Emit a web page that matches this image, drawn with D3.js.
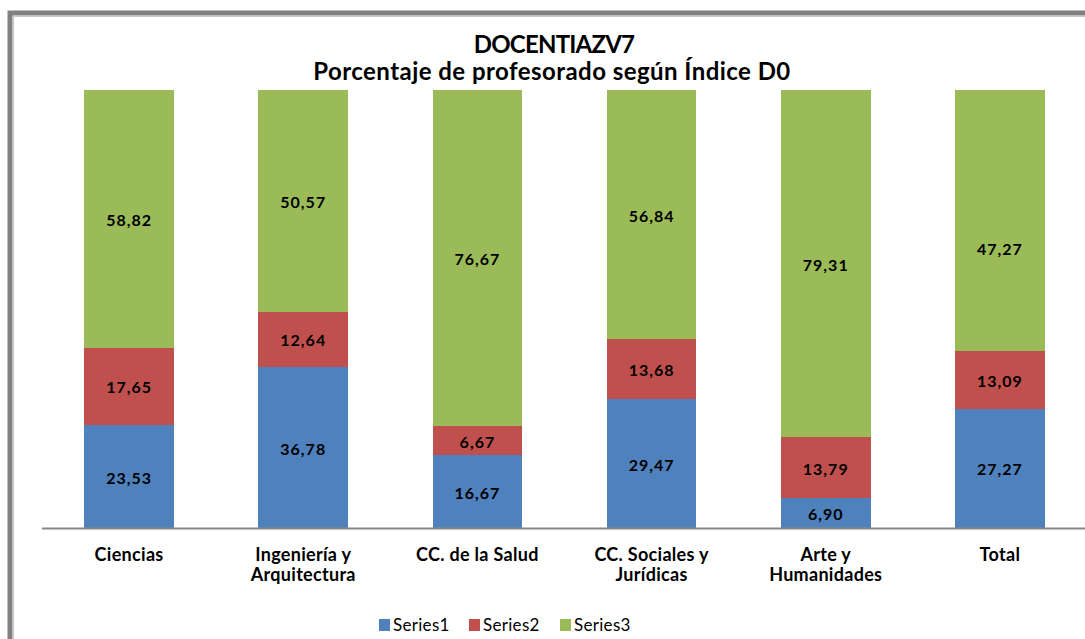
<!DOCTYPE html>
<html>
<head>
<meta charset="utf-8">
<script src="https://cdn.jsdelivr.net/npm/d3@7"></script>
<style>
  body { margin: 0; background: #fff; }
  svg { display: block; }
  text { font-family: Lato, "Open Sans", sans-serif; fill: #000; }
</style>
</head>
<body>
<div id="chart"></div>
<script>
const width = 1085;
const height = 639;

// data
const categories = ["Ciencias", "Ingeniería y|Arquitectura", "CC. de la Salud", "CC. Sociales y|Jurídicas", "Arte y|Humanidades", "Total"];
const series1 = [23.53, 36.78, 16.67, 29.47, 6.90, 27.27];
const series2 = [17.65, 12.64, 6.67, 13.68, 13.79, 13.09];
const series3 = [58.82, 50.57, 76.67, 56.84, 79.31, 47.27];
const seriesNames = ["Series1", "Series2", "Series3"];
const colors = ["#4F81BD", "#C0504D", "#9BBB59"];

// the Total column is drawn up to 100 % in the original, the green just fills the rest
const rows = categories.map((c, i) => ({
  cat: c,
  Series1: series1[i],
  Series2: series2[i],
  Series3: series3[i],
  rest: Math.max(0, 100 - series1[i] - series2[i] - series3[i])
}));

const svg = d3.select("#chart").append("svg")
  .attr("width", width)
  .attr("height", height);

// frame
svg.append("rect")
  .attr("x", 10).attr("y", 13)
  .attr("width", width + 20).attr("height", height + 20)
  .attr("fill", "none")
  .attr("stroke", "#808080")
  .attr("stroke-width", 5);
svg.append("rect")
  .attr("x", 13.5).attr("y", 16.5)
  .attr("width", width + 20).attr("height", height + 20)
  .attr("fill", "none")
  .attr("stroke", "#c8c8c8")
  .attr("stroke-width", 1);

const plotLeft = 42, plotRight = 1087, plotTop = 90, plotBottom = 528;

const x = d3.scaleBand()
  .domain(categories)
  .range([plotLeft, plotRight])
  .paddingInner(0.486)
  .paddingOuter(0.243);

const y = d3.scaleLinear()
  .domain([0, 100])
  .range([plotBottom, plotTop]);

const stack = d3.stack().keys(seriesNames.concat(["rest"]));
const stacked = stack(rows);

const groups = svg.append("g").selectAll("g")
  .data(stacked)
  .enter().append("g")
  .attr("fill", (d, i) => colors[Math.min(i, 2)]);

groups.selectAll("rect")
  .data(d => d)
  .enter().append("rect")
  .attr("x", d => x(d.data.cat))
  .attr("y", d => y(d[1]))
  .attr("width", x.bandwidth())
  .attr("height", d => y(d[0]) - y(d[1]))
  .attr("shape-rendering", "crispEdges");

// value labels
groups.filter(d => d.key !== "rest").selectAll("text")
  .data(d => d)
  .enter().append("text")
  .attr("x", d => x(d.data.cat) + x.bandwidth() / 2)
  .attr("y", d => (y(d[0]) + y(d[1])) / 2)
  .attr("dy", "0.45em")
  .attr("text-anchor", "middle")
  .attr("font-size", "16px")
  .attr("font-weight", "bold")
  .attr("letter-spacing", "1px")
  .text(d => d3.format(".2f")(d[1] - d[0]).replace(".", ","));

// x axis line
svg.append("line")
  .attr("x1", plotLeft).attr("x2", plotRight)
  .attr("y1", plotBottom + 0.5).attr("y2", plotBottom + 0.5)
  .attr("stroke", "#868686")
  .attr("stroke-width", 2);

// category labels
const catLabels = svg.append("g").selectAll("text")
  .data(categories)
  .enter().append("text")
  .attr("x", d => x(d) + x.bandwidth() / 2)
  .attr("y", 561)
  .attr("text-anchor", "middle")
  .attr("font-size", "18px")
  .attr("font-weight", "bold")
  .attr("letter-spacing", "0.3px");

catLabels.each(function(d) {
  const parts = d.split("|");
  const t = d3.select(this);
  parts.forEach((p, i) => {
    t.append("tspan")
      .attr("x", x(d) + x.bandwidth() / 2)
      .attr("dy", i === 0 ? 0 : 20)
      .text(p);
  });
});

// title
svg.append("text")
  .attr("x", 554).attr("y", 53)
  .attr("text-anchor", "middle")
  .attr("font-size", "24px")
  .attr("font-weight", "bold")
  .attr("letter-spacing", "-0.8px")
  .text("DOCENTIAZV7");
svg.append("text")
  .attr("x", 552).attr("y", 80)
  .attr("text-anchor", "middle")
  .attr("font-size", "24px")
  .attr("font-weight", "bold")
  .attr("letter-spacing", "0.45px")
  .text("Porcentaje de profesorado según Índice D0");

// legend
const legendX = [379, 469, 560];
const legend = svg.append("g").selectAll("g")
  .data(seriesNames)
  .enter().append("g")
  .attr("transform", (d, i) => `translate(${legendX[i]}, 619)`);
legend.append("rect")
  .attr("width", 11).attr("height", 12)
  .attr("fill", (d, i) => colors[i]);
legend.append("text")
  .attr("x", 14).attr("y", 12)
  .attr("font-size", "17px")
  .attr("letter-spacing", "0.3px")
  .text(d => d);
</script>
</body>
</html>
